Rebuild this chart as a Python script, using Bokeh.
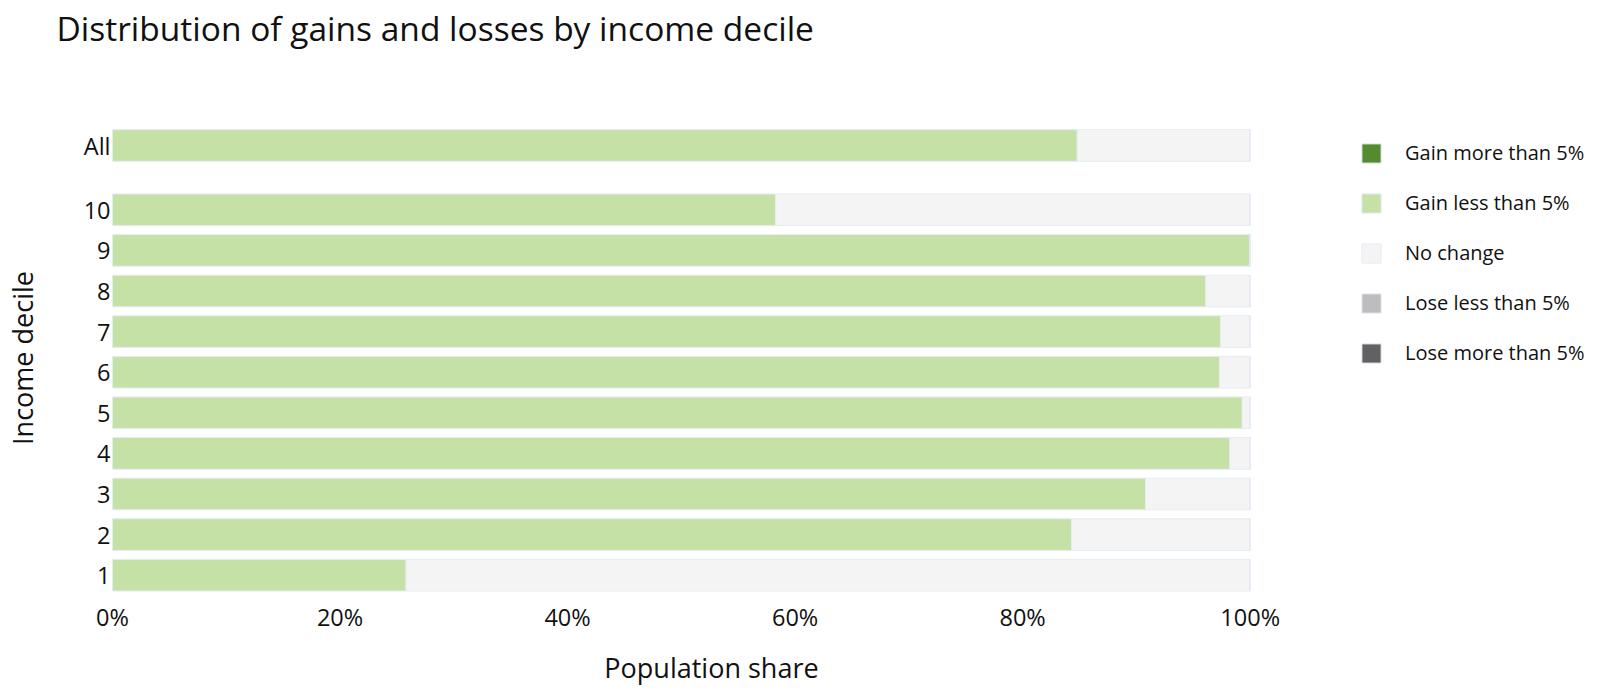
from bokeh.plotting import figure
from bokeh.models import (ColumnDataSource, Range1d, FixedTicker, NumeralTickFormatter,
                          Legend, LegendItem, Title)
from bokeh.embed import file_html
from bokeh.resources import INLINE

# ---- data ----
groups = ["1", "2", "3", "4", "5", "6", "7", "8", "9", "10", "All"]
gain_more_5 = [0.0, 0.0, 0.0, 0.0, 0.0, 0.0, 0.0, 0.0, 0.0, 0.0, 0.0]
gain_less_5 = [0.258, 0.843, 0.908, 0.982, 0.993, 0.973, 0.974, 0.961, 1.0, 0.583, 0.848]
no_change = [0.742, 0.157, 0.092, 0.018, 0.007, 0.027, 0.026, 0.039, 0.0, 0.417, 0.152]
lose_less_5 = [0.0, 0.0, 0.0, 0.0, 0.0, 0.0, 0.0, 0.0, 0.0, 0.0, 0.0]
lose_more_5 = [0.0, 0.0, 0.0, 0.0, 0.0, 0.0, 0.0, 0.0, 0.0, 0.0, 0.0]
series_labels = ["Gain more than 5%", "Gain less than 5%", "No change",
                 "Lose less than 5%", "Lose more than 5%"]
x_tick_values = [0.0, 0.2, 0.4, 0.6, 0.8, 1.0]
title_text = "Distribution of gains and losses by income decile"

# ---- layout / style ----
colors = ["#558B2F", "#C5E1A5", "#F4F4F4", "#BDBDBD", "#616161"]
FONT = "Open Sans"
TXT = "#111111"
# deciles occupy 1..10, "All" sits in its own band above with a gap
ypos = [float(i + 1) for i in range(10)] + [11.584]

src = ColumnDataSource(dict(
    y=ypos, label=groups,
    gm=gain_more_5, gl=gain_less_5, nc=no_change, ll=lose_less_5, lm=lose_more_5,
))
stackers = ["gm", "gl", "nc", "ll", "lm"]

p = figure(frame_width=1198, frame_height=475, output_backend="svg", toolbar_location=None,
           x_range=Range1d(0, 1.053), y_range=Range1d(0.5, 12.2),
           min_border_left=112, min_border_right=280,
           min_border_top=120, min_border_bottom=90,
           tools="")

renderers = p.hbar_stack(stackers, y="y", height=0.78, source=src,
                         fill_color=colors, line_color="#E5ECF6", line_width=1)

# title: an empty spacer panel next to the frame, the real title above it
p.title.text = ""
p.title.standoff = 0
spacer = Title(text=" ", text_font_size="10px", standoff=55)
p.add_layout(spacer, "above")
main_title = Title(text=title_text, text_font=FONT, text_font_size="33.5px",
                   text_font_style="normal", text_color=TXT, align="left",
                   vertical_align="top", offset=-56, standoff=0)
p.add_layout(main_title, "above")

# axes
p.xaxis.ticker = FixedTicker(ticks=x_tick_values)
p.xaxis.formatter = NumeralTickFormatter(format="0%")
p.xaxis.axis_label = "Population share"
p.yaxis.ticker = FixedTicker(ticks=ypos)
p.yaxis.major_label_overrides = {v: g for v, g in zip(ypos, groups)}
p.yaxis.axis_label = "Income decile"

for ax in (p.xaxis[0], p.yaxis[0]):
    ax.axis_line_color = None
    ax.major_tick_line_color = None
    ax.minor_tick_line_color = None
    ax.major_tick_out = 0
    ax.major_tick_in = 0
    ax.major_label_text_font = FONT
    ax.major_label_text_font_size = "23.5px"
    ax.major_label_text_color = TXT
    ax.axis_label_text_font = FONT
    ax.axis_label_text_font_size = "27px"
    ax.axis_label_text_font_style = "normal"
    ax.axis_label_text_color = TXT

p.xaxis.major_label_standoff = 5
p.xaxis.axis_label_standoff = 13
p.yaxis.major_label_standoff = 2
p.yaxis.axis_label_standoff = 40

p.grid.visible = False
p.outline_line_color = None

legend = Legend(
    items=[LegendItem(label=lab, renderers=[r]) for lab, r in zip(series_labels, renderers)],
    location=(49, 229), glyph_width=24, glyph_height=24, label_height=20,
    spacing=23, padding=0, margin=0, border_line_color=None,
    background_fill_alpha=0, label_standoff=22,
    label_text_font=FONT, label_text_font_size="20px", label_text_color=TXT,
)
p.add_layout(legend, "right")

open("out.html", "w").write(file_html(p, INLINE))
